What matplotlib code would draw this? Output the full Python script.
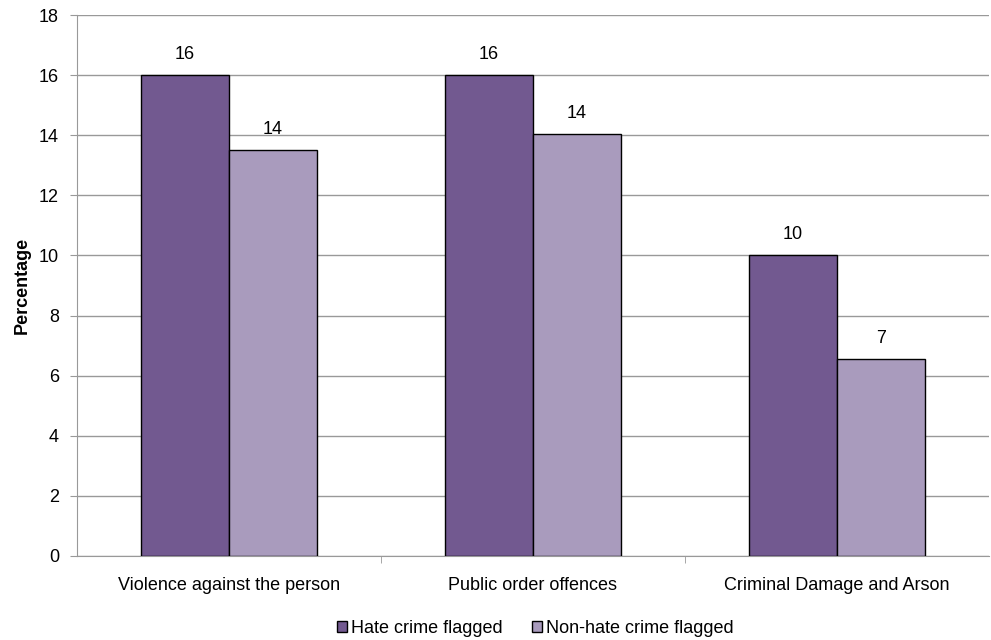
import matplotlib
matplotlib.use("Agg")
import matplotlib.pyplot as plt
import numpy as np

plt.rcParams["font.family"] = ["Liberation Sans", "DejaVu Sans"]

categories = ["Violence against the person", "Public order offences", "Criminal Damage and Arson"]
hate = [16.0, 16.0, 10.0]
non_hate = [13.5, 14.05, 6.55]
hate_labels = ["16", "16", "10"]
non_hate_labels = ["14", "14", "7"]

fs = 13

fig = plt.figure(figsize=(9.91, 6.4), dpi=100)
ax = fig.add_axes([77 / 991, 1 - 556 / 640, (989 - 77) / 991, (556 - 15) / 640])

x = np.arange(len(categories))
w = 0.29
b1 = ax.bar(x - w / 2, hate, w, color="#725990", edgecolor="black", linewidth=1.0,
            label="Hate crime flagged", zorder=3)
b2 = ax.bar(x + w / 2, non_hate, w, color="#A99BBD", edgecolor="black", linewidth=1.0,
            label="Non-hate crime flagged", zorder=3)

for rect, lab in zip(b1, hate_labels):
    ax.text(rect.get_x() + rect.get_width() / 2, rect.get_height() + 0.4, lab,
            ha="center", va="bottom", fontsize=fs)
for rect, lab in zip(b2, non_hate_labels):
    ax.text(rect.get_x() + rect.get_width() / 2, rect.get_height() + 0.4, lab,
            ha="center", va="bottom", fontsize=fs)

ax.set_xlim(-0.5, 2.5)
ax.set_ylim(0, 18)
ax.set_yticks(range(0, 19, 2))
ax.set_xticks(x)
ax.set_xticklabels(categories, fontsize=fs)
ax.set_xticks([0.5, 1.5], minor=True)
ax.tick_params(axis="x", which="major", length=0, pad=15)
ax.tick_params(axis="x", which="minor", length=5, color="#999999", direction="out")
ax.tick_params(axis="y", length=5, color="#999999", labelsize=fs, pad=8)

ax.grid(axis="y", color="#999999", linewidth=1.0, zorder=0)
for s in ["top", "right"]:
    ax.spines[s].set_visible(False)
ax.spines["left"].set_color("#999999")
ax.spines["bottom"].set_color("#999999")

ax.set_ylabel("Percentage", fontsize=fs, fontweight="bold", labelpad=6)

fig.legend(handles=[b1, b2], loc="lower center", bbox_to_anchor=(0.54, -0.006), ncol=2,
           frameon=False, fontsize=fs, handlelength=0.6, handleheight=0.6,
           handletextpad=0.2, columnspacing=1.6, borderaxespad=0.0)

fig.savefig("out.png", dpi=100)
